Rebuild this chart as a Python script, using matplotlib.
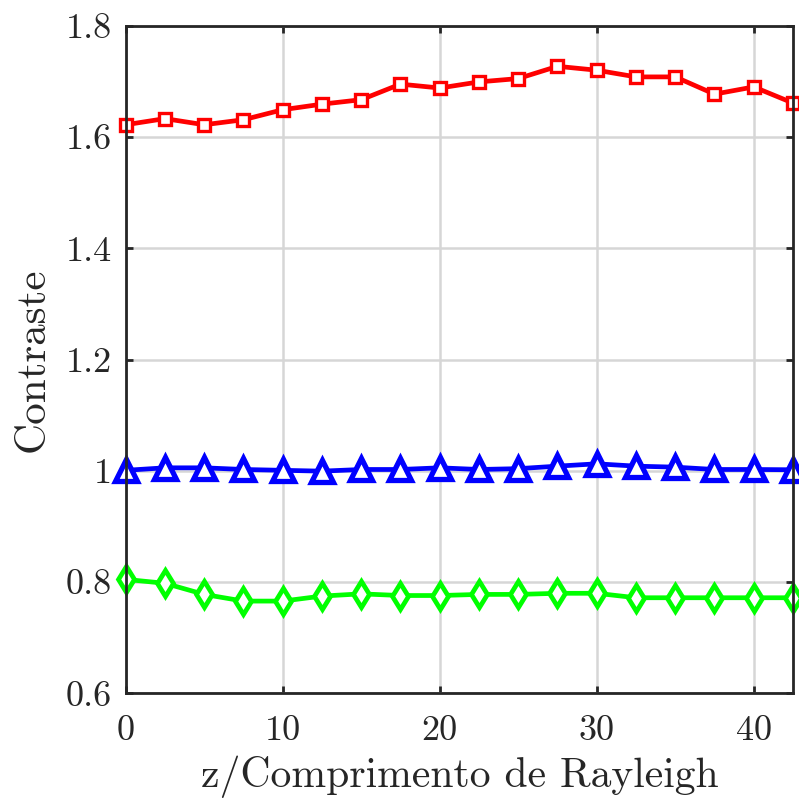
import matplotlib
matplotlib.use("Agg")
import matplotlib.pyplot as plt
from matplotlib.ticker import FuncFormatter

plt.rcParams['font.family'] = ['cmr10', 'DejaVu Serif']
plt.rcParams['mathtext.fontset'] = 'cm'
plt.rcParams['axes.formatter.use_mathtext'] = True

# z / Rayleigh length
z = [0, 2.5, 5, 7.5, 10, 12.5, 15, 17.5, 20, 22.5, 25, 27.5, 30, 32.5, 35, 37.5, 40, 42.5]

red_vals = [1.622, 1.633, 1.622, 1.631, 1.649, 1.659, 1.667, 1.695, 1.688,
            1.699, 1.705, 1.727, 1.720, 1.708, 1.708, 1.677, 1.690, 1.661]
blue_vals = [1.001, 1.0055, 1.0055, 1.0025, 1.001, 0.9995, 1.0025, 1.0025, 1.0055,
             1.0025, 1.004, 1.0085, 1.0127, 1.0085, 1.0067, 1.0025, 1.0025, 1.002]
green_vals = [0.805, 0.798, 0.778, 0.766, 0.766, 0.775, 0.779, 0.776, 0.776,
              0.778, 0.778, 0.780, 0.780, 0.772, 0.772, 0.772, 0.772, 0.772]

xticks = [0, 10, 20, 30, 40]
yticks = [0.6, 0.8, 1.0, 1.2, 1.4, 1.6, 1.8]

dark = (0.15, 0.15, 0.15)

fig = plt.figure(figsize=(7.99, 7.98), dpi=100)
ax = fig.add_axes([0.1573, 0.131, 0.9925 - 0.1573, 0.9678 - 0.131])

ax.plot(z, red_vals, color=(1, 0, 0), lw=3.4, marker='s', ms=8, mew=2.4,
        mfc='white', clip_on=False, zorder=3)
ax.plot(z, blue_vals, color=(0, 0, 1), lw=3.4, marker='^', ms=16, mew=3.8,
        mfc='white', clip_on=False, zorder=3)
ax.plot(z, green_vals, color=(0, 1, 0), lw=3.4, marker='d', ms=13, mew=3.4,
        mfc='white', clip_on=False, zorder=3)

ax.set_xlim(0, 42.5)
ax.set_ylim(0.6, 1.8)
ax.set_xticks(xticks)
ax.set_yticks(yticks)
fmt = FuncFormatter(lambda v, p: '%g' % v)
ax.xaxis.set_major_formatter(fmt)
ax.yaxis.set_major_formatter(fmt)

ax.grid(True, color=(0.84, 0.84, 0.84), lw=1.8)
ax.set_axisbelow(True)
for s in ax.spines.values():
    s.set_linewidth(2)
    s.set_color(dark)
    s.set_zorder(4)

ax.tick_params(direction='in', length=5, width=2, colors=dark,
               top=True, right=True, labelsize=26, pad=10)
ax.tick_params(axis='x', pad=16)

ax.set_xlabel('z/Comprimento de Rayleigh', fontsize=30, color=dark, labelpad=6)
ax.set_ylabel('Contraste', fontsize=31, color=dark, labelpad=10)

fig.savefig('out.png', dpi=100)
